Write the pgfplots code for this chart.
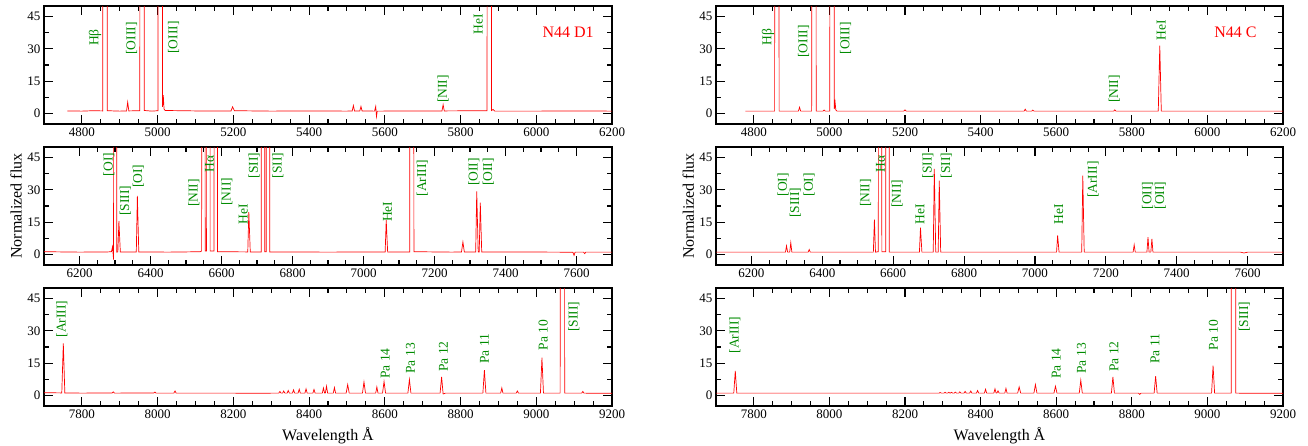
\documentclass[border=0pt]{standalone}
\usepackage{fontspec}
\setmainfont{Liberation Serif}
\usepackage{pgfplots}
\pgfplotsset{compat=1.18}
\definecolor{lbl}{RGB}{0,139,0}
\pgfplotsset{
  spec/.style={scale only axis, height=118pt, ymin=-5, ymax=50,
    ytick={0,15,30,45}, minor y tick num=1, minor x tick num=3,
    tick align=inside, major tick length=9pt, minor tick length=5pt,
    axis line style={line width=1.5pt},
    every tick/.style={line width=1.1pt, black},
    tick label style={font=\fontsize{13}{15}\selectfont},
    /pgf/number format/1000 sep={}, /pgf/number format/assume math mode=true,
    every axis plot post/.append style={red, line width=0.7pt, mark=none},
  },
  yl/.style={ylabel={Normalized flux}, ylabel style={at={(axis description cs:-0.049,0.5)}, anchor=center, font=\fontsize{16}{18}\selectfont}},
  xl/.style={xlabel={Wavelength Å}, xlabel style={at={(axis description cs:0.5,-0.254)}, anchor=center, font=\fontsize{16}{18}\selectfont}},
}
\tikzset{
  lab/.style={text=lbl, rotate=90, font=\fontsize{13.5}{13.5}\selectfont, inner sep=0pt, anchor=center},
  nm/.style={text=red, font=\fontsize{16}{16}\selectfont, anchor=center},
}
\begin{document}
\begin{tikzpicture}
\useasboundingbox (0,0) rectangle (1308pt,-445pt);
% ---------- top left
\begin{axis}[spec, width=568pt, at={(44pt,-6pt)}, anchor=north west, xmin=4700, xmax=6200, xtick={4800,5000,5200,5400,5600,5800,6000,6200}]
\addplot coordinates {(4762,1.1)(4800,1.0)(4830,1.2)(4855,1.1)(4857,500)(4865,500)(4867,1.2)(4900,1.0)(4918,1.1)(4921,5.2)(4924,1.1)(4953,1.2)(4955,500)(4963,500)(4965,1.3)(4985,1.0)(5001,1.2)(5003,500)(5011,500)(5013,3)(5015,8.4)(5017,2)(5020,1.3)(5100,1.1)(5194,1.1)(5198,3)(5200,2.2)(5203,1.2)(5300,1.0)(5400,1.1)(5500,1.0)(5514,1.1)(5517,3.6)(5520,1.1)(5534,1.1)(5537,3.2)(5540,1.1)(5573,1.0)(5576,3.2)(5578,-1.5)(5580,1.0)(5700,1.1)(5751,1.1)(5754,4)(5757,1.1)(5870,1.2)(5872,500)(5880,500)(5882,1.3)(5886,1.8)(5890,1.0)(6000,1.0)(6100,1.1)(6200,1.0)};
\node[lab] at (axis cs:4835,35.3) {Hβ};
\node[lab] at (axis cs:4931,34.8) {[OIII]};
\node[lab] at (axis cs:5042,35.3) {[OIII]};
\node[lab] at (axis cs:5754,11.3) {[NII]};
\node[lab] at (axis cs:5847,41.6) {HeI};
\node[nm] at (axis cs:6084,37.6) {N44 D1};
\end{axis}
% ---------- top right
\begin{axis}[spec, width=567pt, at={(716pt,-6pt)}, anchor=north west, xmin=4700, xmax=6200, xtick={4800,5000,5200,5400,5600,5800,6000,6200}]
\addplot coordinates {(4778,1.0)(4850,1.0)(4855,1.0)(4857,500)(4865,500)(4867,1.0)(4918,1.0)(4921,2.8)(4924,1.0)(4953,1.0)(4955,500)(4963,500)(4965,1.0)(4983,1.0)(4986,1.5)(4989,1.0)(5001,1.0)(5003,500)(5011,500)(5013,2)(5015,5.2)(5017,1.5)(5020,1.0)(5197,1.0)(5200,1.6)(5203,1.0)(5515,1.0)(5518,1.9)(5521,1.0)(5535,1.0)(5538,1.5)(5541,1.0)(5752,1.0)(5755,1.6)(5758,1.0)(5870,1.0)(5874,31.5)(5878,1.0)(6200,1.0)};
\node[lab] at (axis cs:4838,35.5) {Hβ};
\node[lab] at (axis cs:4932,33.5) {[OIII]};
\node[lab] at (axis cs:5043,35) {[OIII]};
\node[lab] at (axis cs:5754,11.3) {[NII]};
\node[lab] at (axis cs:5878,38.8) {HeI};
\node[nm] at (axis cs:6074,37.6) {N44 C};
\end{axis}
% ---------- middle left
\begin{axis}[spec, yl, width=568pt, at={(44pt,-147pt)}, anchor=north west, xmin=6100, xmax=7700, xtick={6200,6400,6600,6800,7000,7200,7400,7600}]
\addplot coordinates {(6100,1.2)(6200,1.0)(6280,1.1)(6290,1.2)(6293,3.5)(6296,-2.5)(6297,500)(6303,500)(6305,1.0)(6308,1.1)(6311,15.4)(6315,1.1)(6360,1.1)(6363,27.2)(6367,1.1)(6450,1.0)(6500,1.1)(6540,1.2)(6544,1.5)(6546,500)(6552,500)(6554,1.5)(6558,1.5)(6559,500)(6567,500)(6568,1.5)(6579,1.5)(6581,500)(6587,500)(6589,1.2)(6674,1.1)(6677,19.7)(6681,1.1)(6712,1.1)(6714,500)(6720,500)(6722,1.2)(6726,1.2)(6728,500)(6734,500)(6736,1.1)(6900,1.0)(7061,1.1)(7064,15.9)(7068,1.1)(7130,1.1)(7132,500)(7140,500)(7142,1.2)(7250,1.0)(7276,1.1)(7280,5.7)(7284,1.1)(7316,1.1)(7319,29.3)(7323,1.1)(7326,1.1)(7329,24.1)(7333,1.1)(7550,1.0)(7590,0.9)(7593,-0.5)(7596,1.0)(7620,1.0)(7623,0.3)(7626,1.0)(7700,1.0)};
\node[lab] at (axis cs:6283,41.9) {[OI]};
\node[lab] at (axis cs:6329,25.0) {[SIII]};
\node[lab] at (axis cs:6366,36.4) {[OI]};
\node[lab] at (axis cs:6522,28.5) {[NII]};
\node[lab] at (axis cs:6566,42) {Hα};
\node[lab] at (axis cs:6615,29.1) {[NII]};
\node[lab] at (axis cs:6661,18.6) {HeI};
\node[lab] at (axis cs:6692,41.4) {[SII]};
\node[lab] at (axis cs:6759,41.4) {[SII]};
\node[lab] at (axis cs:7068,19.8) {HeI};
\node[lab] at (axis cs:7166,35.6) {[ArIII]};
\node[lab] at (axis cs:7311,38.4) {[OII]};
\node[lab] at (axis cs:7352,38.4) {[OII]};
\end{axis}
% ---------- middle right
\begin{axis}[spec, yl, width=567pt, at={(716pt,-147pt)}, anchor=north west, xmin=6100, xmax=7700, xtick={6200,6400,6600,6800,7000,7200,7400,7600}]
\addplot coordinates {(6100,1.0)(6296,1.0)(6299,3.9)(6302,1.0)(6308,1.0)(6311,5.4)(6314,1.0)(6360,1.0)(6363,2.2)(6366,1.0)(6544,1.0)(6547,16.2)(6550,1.0)(6558,1.2)(6560,500)(6566,500)(6568,1.2)(6579,1.2)(6581,500)(6587,500)(6589,1.0)(6674,1.0)(6677,12.4)(6681,1.0)(6713,1.0)(6716,39.8)(6720,1.0)(6727,1.0)(6730,34.3)(6734,1.0)(7061,1.0)(7064,8.8)(7068,1.0)(7132,1.0)(7135,36.7)(7139,1.0)(7277,1.0)(7280,4.4)(7283,1.0)(7316,1.0)(7319,8.0)(7322,1.0)(7327,1.0)(7330,7.2)(7333,1.0)(7580,1.0)(7590,0.6)(7600,1.0)(7700,1.0)};
\node[lab] at (axis cs:6289,32.4) {[OI]};
\node[lab] at (axis cs:6324,24.1) {[SIII]};
\node[lab] at (axis cs:6363,32.4) {[OI]};
\node[lab] at (axis cs:6522,28.5) {[NII]};
\node[lab] at (axis cs:6564,42) {Hα};
\node[lab] at (axis cs:6611,28.2) {[NII]};
\node[lab] at (axis cs:6676,18.7) {HeI};
\node[lab] at (axis cs:6698,41.4) {[SII]};
\node[lab] at (axis cs:6750,41.4) {[SII]};
\node[lab] at (axis cs:7067,18.7) {HeI};
\node[lab] at (axis cs:7164,34.8) {[ArIII]};
\node[lab] at (axis cs:7318,27.4) {[OII]};
\node[lab] at (axis cs:7354,27.4) {[OII]};
\end{axis}
% ---------- bottom left
\begin{axis}[spec, xl, width=568pt, at={(44pt,-288pt)}, anchor=north west, xmin=7700, xmax=9200, xtick={7800,8000,8200,8400,8600,8800,9000,9200}]
\addplot coordinates {(7700,1.2)(7747,1.1)(7751,24.2)(7755,1.1)(7800,1.0)(7880,1.1)(7883,1.6)(7886,1.0)(7990,1.1)(7993,1.5)(7996,1.0)(8043,1.0)(8046,2.0)(8049,1.0)(8200,1.0)(8280,0.9)(8300,1.0)(8320,1.0)(8323,1.8)(8326,1.0)(8330,1.0)(8333,2.0)(8336,1.0)(8342,1.0)(8345,2.2)(8348,1.0)(8356,1.0)(8359,2.5)(8362,1.0)(8371,1.0)(8374,2.8)(8377,1.0)(8389,1.0)(8392,3.0)(8395,1.0)(8410,1.0)(8413,2.7)(8416,1.0)(8435,1.0)(8438,3.4)(8441,1.0)(8443,1.0)(8446,4.2)(8449,1.0)(8464,1.0)(8467,3.6)(8470,1.0)(8498,1.0)(8502,5.0)(8506,1.0)(8541,1.0)(8545,6.2)(8549,1.0)(8576,1.0)(8579,3.9)(8582,1.0)(8594,1.0)(8598,6.4)(8602,1.0)(8661,1.0)(8665,7.3)(8669,1.0)(8746,1.0)(8750,8.6)(8754,0.6)(8760,1.0)(8859,1.0)(8863,11.7)(8867,1.0)(8906,1.0)(8909,3.4)(8912,1.0)(8947,1.0)(8950,2.0)(8953,1.0)(9011,1.0)(9015,17.5)(9019,1.0)(9063,1.0)(9065,500)(9073,500)(9075,1.0)(9120,1.0)(9123,1.8)(9126,1.0)(9200,0.9)};
\node[lab] at (axis cs:7747,35.6) {[ArIII]};
\node[lab] at (axis cs:8601,14.8) {Pa 14};
\node[lab] at (axis cs:8668,17.2) {Pa 13};
\node[lab] at (axis cs:8755,18) {Pa 12};
\node[lab] at (axis cs:8863,21.7) {Pa 11};
\node[lab] at (axis cs:9018,28) {Pa 10};
\node[lab] at (axis cs:9099,36.7) {[SIII]};
\end{axis}
% ---------- bottom right
\begin{axis}[spec, xl, width=567pt, at={(716pt,-288pt)}, anchor=north west, xmin=7700, xmax=9200, xtick={7800,8000,8200,8400,8600,8800,9000,9200}]
\addplot coordinates {(7700,1.0)(7747,1.0)(7751,11.4)(7755,1.0)(8290,1.0)(8293,1.3)(8296,1.0)(8303,1.0)(8306,1.4)(8309,1.0)(8313,1.0)(8316,1.4)(8319,1.0)(8320,1.0)(8323,1.4)(8326,1.0)(8330,1.0)(8333,1.5)(8336,1.0)(8342,1.0)(8345,1.6)(8348,1.0)(8356,1.0)(8359,1.8)(8362,1.0)(8371,1.0)(8374,2.0)(8377,1.0)(8389,1.0)(8392,2.2)(8395,1.0)(8410,1.0)(8413,2.8)(8416,1.0)(8435,1.0)(8438,3.0)(8441,1.0)(8443,1.0)(8446,2.0)(8449,1.0)(8464,1.0)(8467,3.2)(8470,1.0)(8498,1.0)(8502,3.9)(8506,1.0)(8541,1.0)(8545,5.0)(8549,1.0)(8594,1.0)(8598,4.2)(8602,1.0)(8661,1.0)(8665,7.0)(8669,1.0)(8746,1.0)(8750,8.6)(8754,1.0)(8818,1.0)(8821,0.4)(8824,1.0)(8859,1.0)(8863,8.9)(8867,1.0)(9011,1.0)(9015,13.8)(9019,1.0)(9063,1.0)(9065,500)(9073,500)(9075,1.0)(9200,0.9)};
\node[lab] at (axis cs:7750,28.1) {[ArIII]};
\node[lab] at (axis cs:8600,14.8) {Pa 14};
\node[lab] at (axis cs:8667,17.2) {Pa 13};
\node[lab] at (axis cs:8753,18) {Pa 12};
\node[lab] at (axis cs:8861,21.7) {Pa 11};
\node[lab] at (axis cs:9016,28) {Pa 10};
\node[lab] at (axis cs:9098,36.7) {[SIII]};
\end{axis}
\end{tikzpicture}
\end{document}
